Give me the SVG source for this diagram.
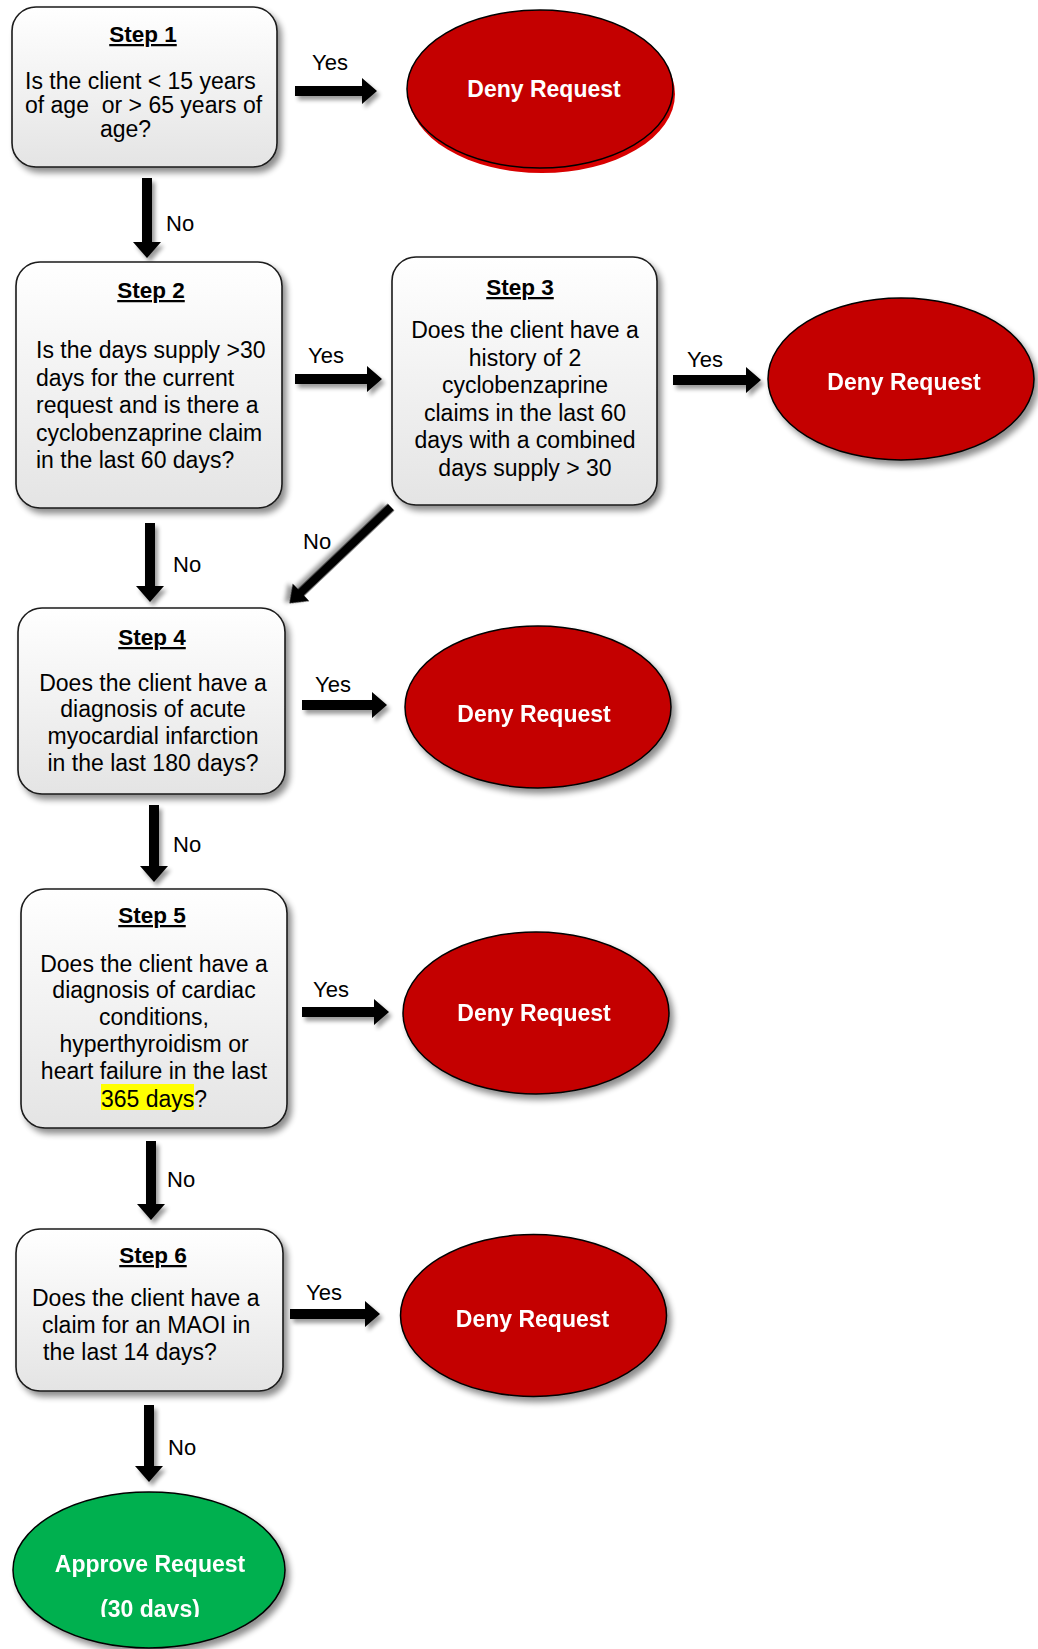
<svg xmlns="http://www.w3.org/2000/svg" width="1038" height="1649" viewBox="0 0 1038 1649">
<defs>
  <linearGradient id="boxg" x1="0" y1="0" x2="0" y2="1">
    <stop offset="0" stop-color="#ffffff"/>
    <stop offset="1" stop-color="#e4e4e4"/>
  </linearGradient>
  <filter id="sh" x="-20%" y="-20%" width="150%" height="150%">
    <feGaussianBlur in="SourceAlpha" stdDeviation="3"/>
    <feOffset dx="4" dy="5" result="b"/>
    <feComponentTransfer><feFuncA type="linear" slope="0.45"/></feComponentTransfer>
    <feMerge><feMergeNode/><feMergeNode in="SourceGraphic"/></feMerge>
  </filter>
  <filter id="ash" x="-30%" y="-60%" width="170%" height="220%">
    <feGaussianBlur in="SourceAlpha" stdDeviation="2"/>
    <feOffset dx="3" dy="4" result="b"/>
    <feComponentTransfer><feFuncA type="linear" slope="0.4"/></feComponentTransfer>
    <feMerge><feMergeNode/><feMergeNode in="SourceGraphic"/></feMerge>
  </filter>
  <clipPath id="apclip"><rect x="0" y="1400" width="400" height="217"/></clipPath>
  <style>
    .box{fill:url(#boxg);stroke:#1a1a1a;stroke-width:1.6;filter:url(#sh)}
    .deny{fill:#c40000;stroke:#000;stroke-width:1.5}
    .approve{fill:#00b050;stroke:#000;stroke-width:1.5}
    .t{font-family:"Liberation Sans",Arial,sans-serif;font-size:23px;fill:#000;white-space:pre}
    .h{font-family:"Liberation Sans",Arial,sans-serif;font-size:22.5px;font-weight:bold;text-decoration:underline;fill:#000}
    .e{font-family:"Liberation Sans",Arial,sans-serif;font-size:23px;font-weight:bold;fill:#fff}
    .lbl{font-family:"Liberation Sans",Arial,sans-serif;font-size:22px;fill:#000}
    .arr{fill:#000;filter:url(#ash)}
    .m{text-anchor:middle}
  </style>
</defs>
<rect width="1038" height="1649" fill="#ffffff"/>

<g id="connectors">
  <path class="arr" d="M295,86 L362,86 L362,78 L377,91 L362,104 L362,96 L295,96 Z"/>
  <text class="lbl" x="312" y="70">Yes</text>
  <path class="arr" d="M142,178 L152,178 L152,242 L161,242 L147,258 L133,242 L142,242 Z"/>
  <text class="lbl" x="166" y="231">No</text>
  <path class="arr" d="M295,374 L367,374 L367,366 L382,379 L367,392 L367,384 L295,384 Z"/>
  <text class="lbl" x="308" y="363">Yes</text>
  <path class="arr" d="M673,375 L746,375 L746,367 L761,380 L746,393 L746,385 L673,385 Z"/>
  <text class="lbl" x="687" y="367">Yes</text>
  <path class="arr" d="M145,523 L155,523 L155,586 L164,586 L150,602 L136,586 L145,586 Z"/>
  <text class="lbl" x="173" y="572">No</text>
  <path class="arr" transform="translate(391,507) rotate(136.5)" d="M0,-4.5 L124,-4.5 L124,-12 L140,0 L124,12 L124,4.5 L0,4.5 Z"/>
  <text class="lbl" x="303" y="549">No</text>
  <path class="arr" d="M302,700 L372,700 L372,692 L387,705 L372,718 L372,710 L302,710 Z"/>
  <text class="lbl" x="315" y="692">Yes</text>
  <path class="arr" d="M149,805 L159,805 L159,866 L168,866 L154,882 L140,866 L149,866 Z"/>
  <text class="lbl" x="173" y="852">No</text>
  <path class="arr" d="M302,1007 L374,1007 L374,999 L389,1012 L374,1025 L374,1017 L302,1017 Z"/>
  <text class="lbl" x="313" y="997">Yes</text>
  <path class="arr" d="M146,1141 L156,1141 L156,1204 L165,1204 L151,1220 L137,1204 L146,1204 Z"/>
  <text class="lbl" x="167" y="1187">No</text>
  <path class="arr" d="M290,1309 L365,1309 L365,1301 L380,1314 L365,1327 L365,1319 L290,1319 Z"/>
  <text class="lbl" x="306" y="1300">Yes</text>
  <path class="arr" d="M144,1405 L154,1405 L154,1466 L163,1466 L149,1482 L135,1466 L144,1466 Z"/>
  <text class="lbl" x="168" y="1455">No</text>
</g>

<g id="step1">
  <rect class="box" x="12" y="7" width="265" height="160" rx="24"/>
  <text class="h m" x="143" y="42">Step 1</text>
  <text class="t" x="25" y="89">Is the client &lt; 15 years</text>
  <text class="t" x="25" y="113">of age  or &gt; 65 years of</text>
  <text class="t" x="100" y="137">age?</text>
</g>

<g id="deny1">
  <ellipse cx="542" cy="94" rx="133" ry="79" fill="#d80000"/>
  <ellipse class="deny" cx="540" cy="89" rx="133" ry="79"/>
  <text class="e m" x="544" y="97">Deny Request</text>
</g>

<g id="step2">
  <rect class="box" x="16" y="262" width="266" height="246" rx="24"/>
  <text class="h m" x="151" y="298">Step 2</text>
  <text class="t" x="36" y="358">Is the days supply &gt;30</text>
  <text class="t" x="36" y="386">days for the current</text>
  <text class="t" x="36" y="413">request and is there a</text>
  <text class="t" x="36" y="441">cyclobenzaprine claim</text>
  <text class="t" x="36" y="468">in the last 60 days?</text>
</g>

<g id="step3">
  <rect class="box" x="392" y="257" width="265" height="248" rx="24"/>
  <text class="h m" x="520" y="295">Step 3</text>
  <text class="t m" x="525" y="338">Does the client have a</text>
  <text class="t m" x="525" y="366">history of 2</text>
  <text class="t m" x="525" y="393">cyclobenzaprine</text>
  <text class="t m" x="525" y="421">claims in the last 60</text>
  <text class="t m" x="525" y="448">days with a combined</text>
  <text class="t m" x="525" y="476">days supply &gt; 30</text>
</g>

<g id="deny2" filter="url(#sh)">
  <ellipse class="deny" cx="901" cy="379" rx="133" ry="81"/>
  <text class="e m" x="904" y="390">Deny Request</text>
</g>

<g id="step4">
  <rect class="box" x="18" y="608" width="267" height="186" rx="24"/>
  <text class="h m" x="152" y="645">Step 4</text>
  <text class="t m" x="153" y="691">Does the client have a</text>
  <text class="t m" x="153" y="717">diagnosis of acute</text>
  <text class="t m" x="153" y="744">myocardial infarction</text>
  <text class="t m" x="153" y="771">in the last 180 days?</text>
</g>

<g id="deny3" filter="url(#sh)">
  <ellipse class="deny" cx="538" cy="707" rx="133" ry="81"/>
  <text class="e m" x="534" y="722">Deny Request</text>
</g>

<g id="step5">
  <rect class="box" x="21" y="889" width="266" height="239" rx="24"/>
  <text class="h m" x="152" y="923">Step 5</text>
  <text class="t m" x="154" y="972">Does the client have a</text>
  <text class="t m" x="154" y="998">diagnosis of cardiac</text>
  <text class="t m" x="154" y="1025">conditions,</text>
  <text class="t m" x="154" y="1052">hyperthyroidism or</text>
  <text class="t m" x="154" y="1079">heart failure in the last</text>
  <rect x="101" y="1084" width="93" height="26" fill="#ffff00"/>
  <text class="t" x="101" y="1107">365 days?</text>
</g>

<g id="deny4" filter="url(#sh)">
  <ellipse class="deny" cx="536" cy="1013" rx="133" ry="81"/>
  <text class="e m" x="534" y="1021">Deny Request</text>
</g>

<g id="step6">
  <rect class="box" x="16" y="1229" width="267" height="162" rx="24"/>
  <text class="h m" x="153" y="1263">Step 6</text>
  <text class="t" x="32" y="1306">Does the client have a</text>
  <text class="t" x="42" y="1333">claim for an MAOI in</text>
  <text class="t" x="43" y="1360">the last 14 days?</text>
</g>

<g id="deny5" filter="url(#sh)">
  <ellipse class="deny" cx="533.5" cy="1315.5" rx="133" ry="81"/>
  <text class="e m" x="532.5" y="1327">Deny Request</text>
</g>

<g id="approve" filter="url(#sh)">
  <ellipse class="approve" cx="149" cy="1570" rx="136" ry="78"/>
  <text class="e m" x="150" y="1572">Approve Request</text>
  <text class="e m" x="150" y="1617" clip-path="url(#apclip)">(30 days)</text>
</g>
</svg>
